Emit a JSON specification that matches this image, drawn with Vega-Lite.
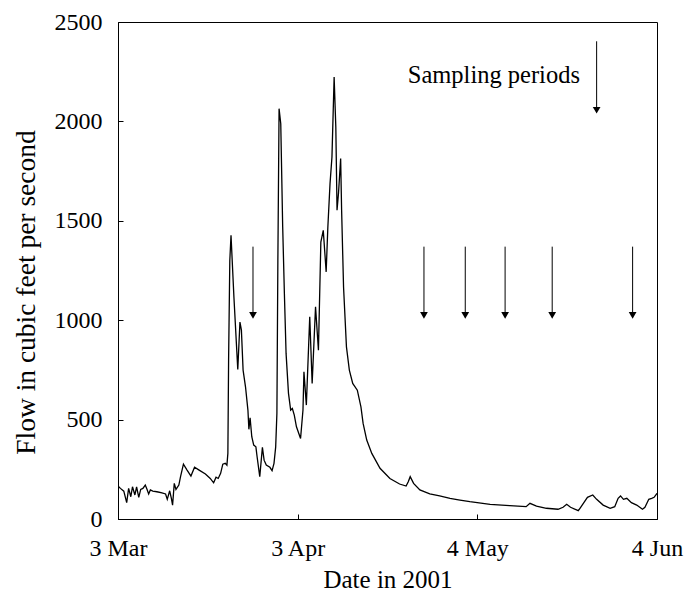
{
  "$schema": "https://vega.github.io/schema/vega-lite/v6.json",
  "width": 539,
  "height": 497,
  "autosize": {"type": "none"},
  "padding": {"left": 118, "top": 22, "right": 32, "bottom": 78},
  "background": "white",
  "config": {
    "font": "Liberation Serif",
    "view": {"stroke": "black", "strokeWidth": 1},
    "axis": {
      "labelFont": "Liberation Serif",
      "titleFont": "Liberation Serif",
      "labelColor": "black",
      "titleColor": "black",
      "labelFontSize": 24,
      "titleFontSize": 25,
      "titleFontWeight": "normal",
      "domainColor": "black",
      "tickColor": "black",
      "grid": false
    }
  },
  "datasets": {
    "flow": [
      {"date": "2001-03-03T00:00", "flow": 166},
      {"date": "2001-03-03T10:00", "flow": 154},
      {"date": "2001-03-04T00:00", "flow": 140},
      {"date": "2001-03-04T12:00", "flow": 82},
      {"date": "2001-03-04T20:00", "flow": 154},
      {"date": "2001-03-05T05:00", "flow": 112},
      {"date": "2001-03-05T12:00", "flow": 162},
      {"date": "2001-03-05T22:00", "flow": 121},
      {"date": "2001-03-06T05:00", "flow": 162},
      {"date": "2001-03-06T14:00", "flow": 109},
      {"date": "2001-03-06T22:00", "flow": 149},
      {"date": "2001-03-07T07:00", "flow": 154},
      {"date": "2001-03-07T17:00", "flow": 171},
      {"date": "2001-03-08T00:00", "flow": 150},
      {"date": "2001-03-08T07:00", "flow": 126},
      {"date": "2001-03-08T14:00", "flow": 146},
      {"date": "2001-03-09T00:00", "flow": 140},
      {"date": "2001-03-09T17:00", "flow": 137},
      {"date": "2001-03-10T14:00", "flow": 132},
      {"date": "2001-03-11T05:00", "flow": 126},
      {"date": "2001-03-11T12:00", "flow": 99},
      {"date": "2001-03-11T22:00", "flow": 142},
      {"date": "2001-03-12T05:00", "flow": 104},
      {"date": "2001-03-12T10:00", "flow": 70},
      {"date": "2001-03-12T17:00", "flow": 179},
      {"date": "2001-03-13T00:00", "flow": 149},
      {"date": "2001-03-13T12:00", "flow": 171},
      {"date": "2001-03-13T19:00", "flow": 213},
      {"date": "2001-03-14T07:00", "flow": 276},
      {"date": "2001-03-14T22:00", "flow": 246},
      {"date": "2001-03-15T14:00", "flow": 216},
      {"date": "2001-03-16T05:00", "flow": 260},
      {"date": "2001-03-17T00:00", "flow": 246},
      {"date": "2001-03-18T02:00", "flow": 226},
      {"date": "2001-03-18T22:00", "flow": 204},
      {"date": "2001-03-19T12:00", "flow": 182},
      {"date": "2001-03-19T22:00", "flow": 210},
      {"date": "2001-03-20T07:00", "flow": 204},
      {"date": "2001-03-20T17:00", "flow": 230},
      {"date": "2001-03-21T02:00", "flow": 276},
      {"date": "2001-03-21T12:00", "flow": 280},
      {"date": "2001-03-21T19:00", "flow": 271},
      {"date": "2001-03-21T23:00", "flow": 330},
      {"date": "2001-03-22T02:00", "flow": 800},
      {"date": "2001-03-22T07:00", "flow": 1300},
      {"date": "2001-03-22T12:00", "flow": 1427},
      {"date": "2001-03-23T00:00", "flow": 1117},
      {"date": "2001-03-23T16:00", "flow": 752},
      {"date": "2001-03-24T01:00", "flow": 991},
      {"date": "2001-03-24T07:00", "flow": 950},
      {"date": "2001-03-24T14:00", "flow": 749},
      {"date": "2001-03-25T00:00", "flow": 665},
      {"date": "2001-03-25T10:00", "flow": 548},
      {"date": "2001-03-25T14:00", "flow": 451},
      {"date": "2001-03-25T19:00", "flow": 509},
      {"date": "2001-03-26T02:00", "flow": 414},
      {"date": "2001-03-26T10:00", "flow": 372},
      {"date": "2001-03-26T19:00", "flow": 363},
      {"date": "2001-03-27T00:00", "flow": 313},
      {"date": "2001-03-27T11:00", "flow": 213},
      {"date": "2001-03-27T22:00", "flow": 360},
      {"date": "2001-03-28T05:00", "flow": 296},
      {"date": "2001-03-28T14:00", "flow": 271},
      {"date": "2001-03-29T05:00", "flow": 260},
      {"date": "2001-03-29T14:00", "flow": 243},
      {"date": "2001-03-29T22:00", "flow": 280},
      {"date": "2001-03-30T05:00", "flow": 363},
      {"date": "2001-03-30T10:00", "flow": 531},
      {"date": "2001-03-30T14:00", "flow": 1300},
      {"date": "2001-03-30T19:00", "flow": 2064},
      {"date": "2001-03-31T02:00", "flow": 1988},
      {"date": "2001-03-31T10:00", "flow": 1469},
      {"date": "2001-03-31T17:00", "flow": 1134},
      {"date": "2001-04-01T00:00", "flow": 833},
      {"date": "2001-04-01T10:00", "flow": 632},
      {"date": "2001-04-01T19:00", "flow": 548},
      {"date": "2001-04-02T02:00", "flow": 556},
      {"date": "2001-04-02T10:00", "flow": 523},
      {"date": "2001-04-02T19:00", "flow": 464},
      {"date": "2001-04-03T12:00", "flow": 405},
      {"date": "2001-04-03T22:00", "flow": 548},
      {"date": "2001-04-04T02:00", "flow": 740},
      {"date": "2001-04-04T12:00", "flow": 573},
      {"date": "2001-04-05T02:00", "flow": 1017},
      {"date": "2001-04-05T12:00", "flow": 682},
      {"date": "2001-04-06T02:00", "flow": 1067},
      {"date": "2001-04-06T14:00", "flow": 849},
      {"date": "2001-04-07T00:00", "flow": 1393},
      {"date": "2001-04-07T10:00", "flow": 1452},
      {"date": "2001-04-07T22:00", "flow": 1243},
      {"date": "2001-04-08T05:00", "flow": 1469},
      {"date": "2001-04-08T14:00", "flow": 1687},
      {"date": "2001-04-08T22:00", "flow": 1821},
      {"date": "2001-04-09T07:00", "flow": 2223},
      {"date": "2001-04-09T14:00", "flow": 1971},
      {"date": "2001-04-09T19:00", "flow": 1553},
      {"date": "2001-04-10T01:00", "flow": 1637},
      {"date": "2001-04-10T10:00", "flow": 1813},
      {"date": "2001-04-10T14:00", "flow": 1553},
      {"date": "2001-04-10T22:00", "flow": 1167},
      {"date": "2001-04-11T10:00", "flow": 866},
      {"date": "2001-04-11T22:00", "flow": 749},
      {"date": "2001-04-12T12:00", "flow": 682},
      {"date": "2001-04-13T07:00", "flow": 648},
      {"date": "2001-04-13T22:00", "flow": 564},
      {"date": "2001-04-14T07:00", "flow": 481},
      {"date": "2001-04-14T22:00", "flow": 397},
      {"date": "2001-04-15T19:00", "flow": 330},
      {"date": "2001-04-17T05:00", "flow": 255},
      {"date": "2001-04-18T22:00", "flow": 204},
      {"date": "2001-04-20T14:00", "flow": 176},
      {"date": "2001-04-21T17:00", "flow": 166},
      {"date": "2001-04-22T02:00", "flow": 187},
      {"date": "2001-04-22T10:00", "flow": 213},
      {"date": "2001-04-23T00:00", "flow": 179},
      {"date": "2001-04-24T02:00", "flow": 146},
      {"date": "2001-04-25T19:00", "flow": 126},
      {"date": "2001-04-27T12:00", "flow": 116},
      {"date": "2001-04-29T07:00", "flow": 104},
      {"date": "2001-05-01T00:00", "flow": 95},
      {"date": "2001-05-02T17:00", "flow": 87},
      {"date": "2001-05-06T05:00", "flow": 74},
      {"date": "2001-05-09T14:00", "flow": 67},
      {"date": "2001-05-12T10:00", "flow": 62},
      {"date": "2001-05-13T02:00", "flow": 79},
      {"date": "2001-05-14T05:00", "flow": 65},
      {"date": "2001-05-15T22:00", "flow": 54},
      {"date": "2001-05-17T22:00", "flow": 49},
      {"date": "2001-05-18T19:00", "flow": 59},
      {"date": "2001-05-19T10:00", "flow": 74},
      {"date": "2001-05-20T02:00", "flow": 59},
      {"date": "2001-05-21T10:00", "flow": 42},
      {"date": "2001-05-21T17:00", "flow": 54},
      {"date": "2001-05-22T07:00", "flow": 79},
      {"date": "2001-05-23T00:00", "flow": 109},
      {"date": "2001-05-23T22:00", "flow": 121},
      {"date": "2001-05-24T14:00", "flow": 99},
      {"date": "2001-05-25T17:00", "flow": 70},
      {"date": "2001-05-26T22:00", "flow": 54},
      {"date": "2001-05-27T17:00", "flow": 62},
      {"date": "2001-05-28T07:00", "flow": 104},
      {"date": "2001-05-28T17:00", "flow": 116},
      {"date": "2001-05-29T05:00", "flow": 99},
      {"date": "2001-05-29T19:00", "flow": 104},
      {"date": "2001-05-30T14:00", "flow": 82},
      {"date": "2001-05-31T12:00", "flow": 70},
      {"date": "2001-06-01T12:00", "flow": 49},
      {"date": "2001-06-01T22:00", "flow": 59},
      {"date": "2001-06-02T14:00", "flow": 99},
      {"date": "2001-06-03T02:00", "flow": 104},
      {"date": "2001-06-03T12:00", "flow": 109},
      {"date": "2001-06-04T00:00", "flow": 129}
    ],
    "arrows": [
      {"date": "2001-03-26T07:00", "top": 1370, "tip": 1024},
      {"date": "2001-04-24T19:00", "top": 1370, "tip": 1024},
      {"date": "2001-05-01T22:00", "top": 1370, "tip": 1024},
      {"date": "2001-05-08T19:00", "top": 1370, "tip": 1024},
      {"date": "2001-05-16T22:00", "top": 1370, "tip": 1024},
      {"date": "2001-05-30T19:00", "top": 1370, "tip": 1024},
      {"date": "2001-05-24T14:00", "top": 2403, "tip": 2056}
    ],
    "note": [
      {"date": "2001-05-21T17:00", "flow": 2230, "label": "Sampling periods"}
    ]
  },
  "layer": [
    {
      "data": {"name": "flow"},
      "mark": {"type": "line", "color": "black", "strokeWidth": 1.3, "clip": true},
      "encoding": {
        "x": {
          "field": "date",
          "type": "temporal",
          "scale": {"domain": [{"year": 2001, "month": 3, "date": 3}, {"year": 2001, "month": 6, "date": 4}]},
          "axis": {
            "title": "Date in 2001",
            "values": [
              {"year": 2001, "month": 3, "date": 3},
              {"year": 2001, "month": 4, "date": 3},
              {"year": 2001, "month": 5, "date": 4},
              {"year": 2001, "month": 6, "date": 4}
            ],
            "format": "%-d %b",
            "tickSize": -5,
            "labelPadding": 22,
            "titlePadding": 7,
            "labelFlush": false,
            "labelOverlap": false
          }
        },
        "y": {
          "field": "flow",
          "type": "quantitative",
          "scale": {"domain": [0, 2500], "nice": false},
          "axis": {
            "title": "Flow in cubic feet per second",
            "titleFontSize": 27.5,
            "titleY": 270,
            "format": "d",
            "values": [0, 500, 1000, 1500, 2000, 2500],
            "tickSize": -5,
            "labelPadding": 21,
            "titlePadding": 14
          }
        }
      }
    },
    {
      "data": {"name": "arrows"},
      "mark": {"type": "rule", "color": "black", "strokeWidth": 1},
      "encoding": {
        "x": {"field": "date", "type": "temporal"},
        "y": {"field": "top", "type": "quantitative"},
        "y2": {"field": "tip"}
      }
    },
    {
      "data": {"name": "arrows"},
      "mark": {"type": "point", "shape": "triangle-down", "filled": true, "color": "black", "size": 60, "opacity": 1},
      "encoding": {
        "x": {"field": "date", "type": "temporal"},
        "y": {"field": "tip", "type": "quantitative"}
      }
    },
    {
      "data": {"name": "note"},
      "mark": {"type": "text", "align": "right", "baseline": "middle", "font": "Liberation Serif", "fontSize": 24.5, "color": "black"},
      "encoding": {
        "x": {"field": "date", "type": "temporal"},
        "y": {"field": "flow", "type": "quantitative"},
        "text": {"field": "label"}
      }
    }
  ]
}
